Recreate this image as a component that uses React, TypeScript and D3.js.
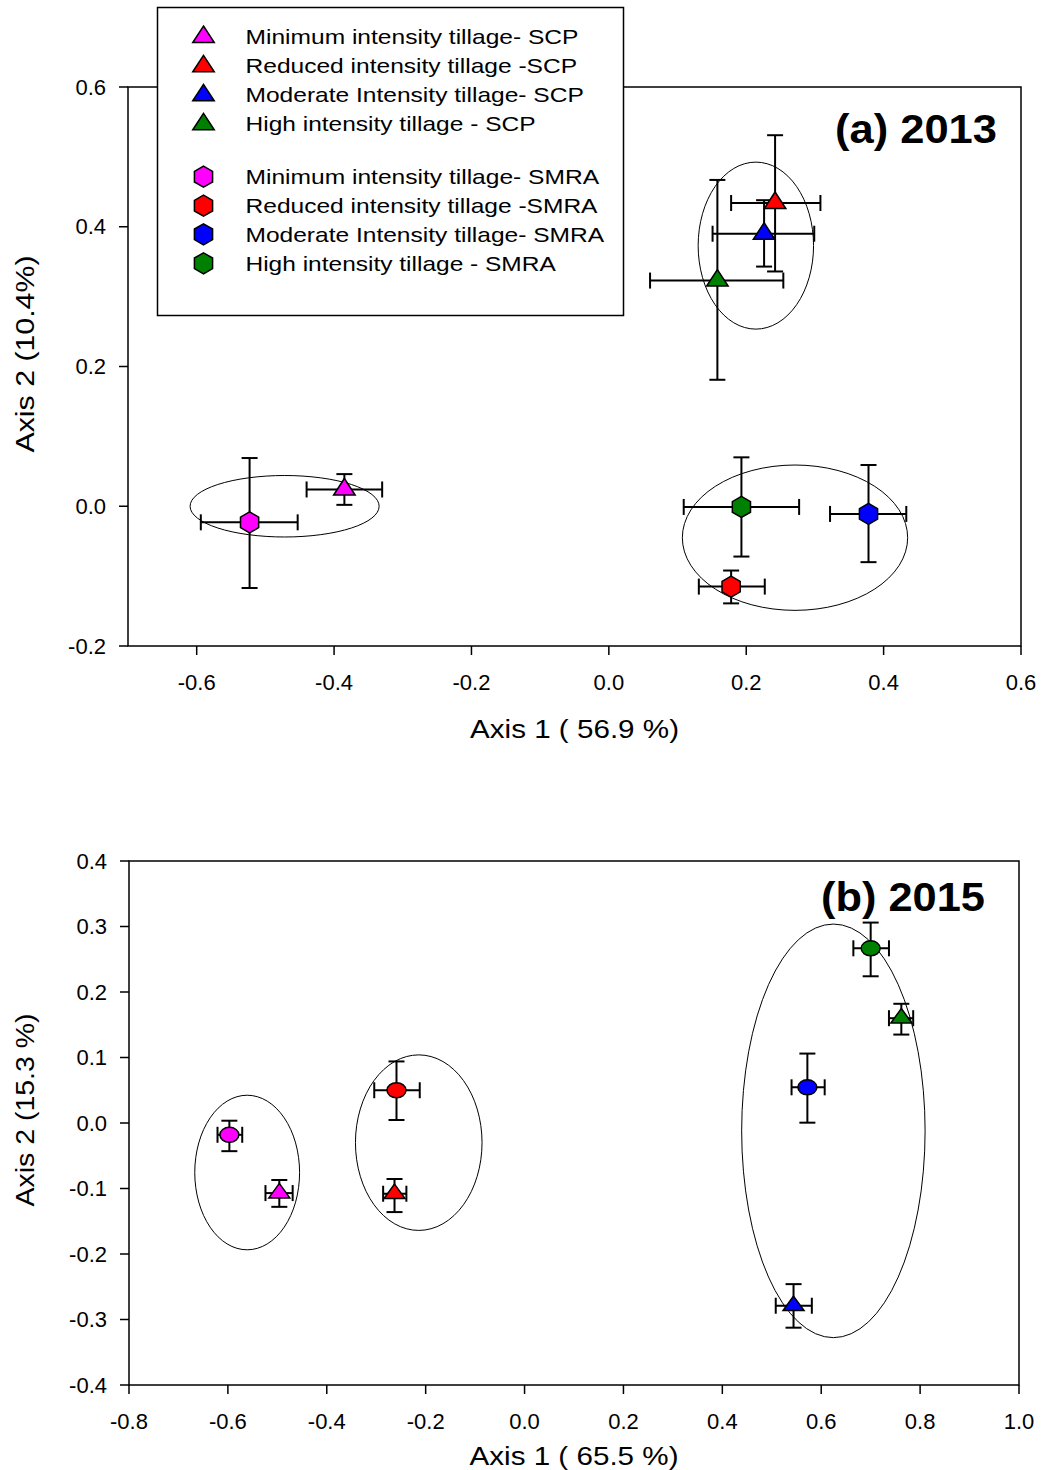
import React, { useEffect } from 'react'
import * as d3 from 'd3'

// ── Data ────────────────────────────────────────────────────────────────────
const COLORS = ['#ff00ff', '#ff0000', '#0000ff', '#008000']

const LEGEND_SCP = [
  'Minimum intensity tillage- SCP',
  'Reduced intensity tillage -SCP',
  'Moderate Intensity tillage- SCP',
  'High intensity tillage - SCP',
]
const LEGEND_SMRA = [
  'Minimum intensity tillage- SMRA',
  'Reduced intensity tillage -SMRA',
  'Moderate Intensity tillage- SMRA',
  'High intensity tillage - SMRA',
]

// [x, y, xLow, xHigh, yLow, yHigh]  order: minimum, reduced, moderate, high
const SCP_2013 = [
  [-0.385, 0.024, -0.44, -0.33, 0.002, 0.046],
  [0.242, 0.434, 0.178, 0.308, 0.336, 0.531],
  [0.226, 0.39, 0.151, 0.299, 0.343, 0.438],
  [0.158, 0.323, 0.06, 0.254, 0.181, 0.467],
]
const SMRA_2013 = [
  [-0.523, -0.023, -0.594, -0.453, -0.117, 0.069],
  [0.178, -0.115, 0.131, 0.227, -0.139, -0.092],
  [0.378, -0.011, 0.322, 0.433, -0.08, 0.059],
  [0.193, -0.001, 0.109, 0.277, -0.072, 0.07],
]
// [cx, cy, rx, ry]
const ELLIPSES_2013 = [
  [-0.472, 0.0, 0.1376, 0.044],
  [0.214, 0.373, 0.084, 0.1195],
  [0.271, -0.045, 0.164, 0.104],
]

const SCP_2015 = [
  [-0.496, -0.107, -0.524, -0.469, -0.128, -0.087],
  [-0.263, -0.108, -0.286, -0.239, -0.136, -0.0855],
  [0.544, -0.279, 0.508, 0.581, -0.3125, -0.246],
  [0.762, 0.16, 0.737, 0.786, 0.135, 0.182],
]
const SMRA_2015 = [
  [-0.597, -0.018, -0.621, -0.571, -0.043, 0.0035],
  [-0.259, 0.05, -0.304, -0.212, 0.0046, 0.094],
  [0.572, 0.0545, 0.54, 0.607, 0.0005, 0.106],
  [0.7, 0.2667, 0.665, 0.737, 0.224, 0.306],
]
const ELLIPSES_2015 = [
  [-0.561, -0.0756, 0.106, 0.118],
  [-0.214, -0.03, 0.128, 0.134],
  [0.6246, -0.012, 0.1855, 0.3157],
]

const X_TICKS_2013 = [-0.6, -0.4, -0.2, 0.0, 0.2, 0.4, 0.6]
const Y_TICKS_2013 = [-0.2, 0.0, 0.2, 0.4, 0.6]
const X_TICKS_2015 = [-0.8, -0.6, -0.4, -0.2, 0.0, 0.2, 0.4, 0.6, 0.8, 1.0]
const Y_TICKS_2015 = [-0.4, -0.3, -0.2, -0.1, 0.0, 0.1, 0.2, 0.3, 0.4]

const FONT = '"Liberation Sans", Arial, Helvetica, sans-serif'

// ── Marker shapes ───────────────────────────────────────────────────────────
function trianglePath(w: number, h: number) {
  // centroid at origin
  const top = (-2 * h) / 3
  const base = h / 3
  return `M0,${top}L${w / 2},${base}L${-w / 2},${base}Z`
}
function hexagonPath(r: number) {
  const pts = d3.range(6).map((i) => {
    const a = (Math.PI / 3) * i - Math.PI / 2
    return [r * Math.cos(a), r * Math.sin(a)]
  })
  return 'M' + pts.map((p) => p.join(',')).join('L') + 'Z'
}

const fmt = (t: number) => t.toFixed(1)

type PanelProps = {
  xDomain: [number, number]
  yDomain: [number, number]
  xRange: [number, number]
  yRange: [number, number]
  xTicks: number[]
  yTicks: number[]
  scp: number[][]
  smra: number[][]
  ellipses: number[][]
  smraShape: 'hex' | 'circle'
  triSize: [number, number]
  title: string
  titlePos: [number, number]
  titleLen: number
  xTitle: string
  yTitle: string
  xTitleY: number
  yTitleLen: number
  yTitleCenter: number
}

function Panel(p: PanelProps) {
  const x = d3.scaleLinear().domain(p.xDomain).range(p.xRange)
  const y = d3.scaleLinear().domain(p.yDomain).range(p.yRange)
  const [x0, x1] = p.xRange
  const [y0, y1] = p.yRange // y0 bottom, y1 top
  const cap = 8

  const errBars = (d: number[], key: string) => (
    <g key={key} stroke="#000" strokeWidth={2} fill="none">
      <line x1={x(d[2])} x2={x(d[3])} y1={y(d[1])} y2={y(d[1])} />
      <line x1={x(d[2])} x2={x(d[2])} y1={y(d[1]) - cap} y2={y(d[1]) + cap} />
      <line x1={x(d[3])} x2={x(d[3])} y1={y(d[1]) - cap} y2={y(d[1]) + cap} />
      <line x1={x(d[0])} x2={x(d[0])} y1={y(d[4])} y2={y(d[5])} />
      <line x1={x(d[0]) - cap} x2={x(d[0]) + cap} y1={y(d[4])} y2={y(d[4])} />
      <line x1={x(d[0]) - cap} x2={x(d[0]) + cap} y1={y(d[5])} y2={y(d[5])} />
    </g>
  )

  const tri = trianglePath(p.triSize[0], p.triSize[1])
  const hex = hexagonPath(10.5)

  return (
    <g fontFamily={FONT}>
      {/* ellipses */}
      {p.ellipses.map((e, i) => (
        <ellipse
          key={'el' + i}
          cx={x(e[0])}
          cy={y(e[1])}
          rx={Math.abs(x(e[0] + e[2]) - x(e[0]))}
          ry={Math.abs(y(e[1] + e[3]) - y(e[1]))}
          fill="none"
          stroke="#000"
          strokeWidth={1}
        />
      ))}

      {/* error bars */}
      {p.scp.map((d, i) => errBars(d, 'es' + i))}
      {p.smra.map((d, i) => errBars(d, 'em' + i))}

      {/* markers */}
      {p.smra.map((d, i) =>
        p.smraShape === 'hex' ? (
          <path key={'m' + i} d={hex} transform={`translate(${x(d[0])},${y(d[1])})`}
            fill={COLORS[i]} stroke="#000" strokeWidth={1.5} />
        ) : (
          <ellipse key={'m' + i} cx={x(d[0])} cy={y(d[1])} rx={9.5} ry={7.5}
            fill={COLORS[i]} stroke="#000" strokeWidth={1.5} />
        )
      )}
      {p.scp.map((d, i) => (
        <path key={'s' + i} d={tri} transform={`translate(${x(d[0])},${y(d[1])})`}
          fill={COLORS[i]} stroke="#000" strokeWidth={1.5} strokeLinejoin="miter" />
      ))}

      {/* frame */}
      <rect x={x0} y={y1} width={x1 - x0} height={y0 - y1} fill="none" stroke="#000" strokeWidth={1.5} />

      {/* x axis */}
      {p.xTicks.map((t) => (
        <g key={'xt' + t}>
          <line x1={x(t)} x2={x(t)} y1={y0} y2={y0 + 9} stroke="#000" strokeWidth={1.5} />
          <text x={x(t)} y={y0 + 44} textAnchor="middle" fontSize={22}>{fmt(t)}</text>
        </g>
      ))}
      {/* y axis */}
      {p.yTicks.map((t) => (
        <g key={'yt' + t}>
          <line x1={x0 - 9} x2={x0} y1={y(t)} y2={y(t)} stroke="#000" strokeWidth={1.5} />
          <text x={x0 - 22} y={y(t) + 7.5} textAnchor="end" fontSize={22}>{fmt(t)}</text>
        </g>
      ))}

      <text x={(x0 + x1) / 2} y={p.xTitleY} textAnchor="middle" fontSize={26}
        textLength={209} lengthAdjust="spacingAndGlyphs">{p.xTitle}</text>
      <text
        transform={`translate(34,${p.yTitleCenter}) rotate(-90)`}
        textAnchor="middle"
        fontSize={26}
        textLength={p.yTitleLen}
        lengthAdjust="spacingAndGlyphs"
      >
        {p.yTitle}
      </text>

      <text x={p.titlePos[0]} y={p.titlePos[1]} textAnchor="end" fontSize={40} fontWeight="bold"
        textLength={p.titleLen} lengthAdjust="spacingAndGlyphs">
        {p.title}
      </text>
    </g>
  )
}

function Legend() {
  const tri = trianglePath(21.5, 16.5)
  const hex = hexagonPath(10.5)
  const rowsScp = [36, 65.3, 94.3, 123.3]
  const rowsSmra = [176.7, 205.7, 234.3, 263.3]
  const lenScp = [333, 331.6, 338.3, 290]
  const lenSmra = [353.6, 352, 358.6, 310.3]
  return (
    <g fontFamily={FONT}>
      <rect x={157.5} y={7.5} width={466} height={308} fill="#fff" stroke="#000" strokeWidth={1.5} />
      {LEGEND_SCP.map((label, i) => (
        <g key={'ls' + i}>
          <path d={tri} transform={`translate(203.5,${rowsScp[i] + 1})`} fill={COLORS[i]} stroke="#000" strokeWidth={1.5} />
          <text x={245.5} y={rowsScp[i] + 7.5} fontSize={21} textLength={lenScp[i]}
            lengthAdjust="spacingAndGlyphs">{label}</text>
        </g>
      ))}
      {LEGEND_SMRA.map((label, i) => (
        <g key={'lm' + i}>
          <path d={hex} transform={`translate(203.5,${rowsSmra[i]})`} fill={COLORS[i]} stroke="#000" strokeWidth={1.5} />
          <text x={245.5} y={rowsSmra[i] + 7.5} fontSize={21} textLength={lenSmra[i]}
            lengthAdjust="spacingAndGlyphs">{label}</text>
        </g>
      ))}
    </g>
  )
}

export default function App() {
  useEffect(() => {
    document.body.style.margin = '0'
  }, [])
  return (
    <svg width={1042} height={1470} style={{ display: 'block', background: '#fff' }}>
      <Panel
        xDomain={[-0.7, 0.6]}
        yDomain={[-0.2, 0.6]}
        xRange={[128, 1021]}
        yRange={[646, 87]}
        xTicks={X_TICKS_2013}
        yTicks={Y_TICKS_2013}
        scp={SCP_2013}
        smra={SMRA_2013}
        ellipses={ELLIPSES_2013}
        smraShape="hex"
        triSize={[21.5, 16.5]}
        title="(a) 2013"
        titlePos={[997, 143]}
        titleLen={162}
        xTitle="Axis 1 ( 56.9 %)"
        yTitle="Axis 2 (10.4%)"
        xTitleY={738}
        yTitleLen={197}
        yTitleCenter={354}
      />
      <Legend />
      <Panel
        xDomain={[-0.8, 1.0]}
        yDomain={[-0.4, 0.4]}
        xRange={[129, 1019]}
        yRange={[1385, 861]}
        xTicks={X_TICKS_2015}
        yTicks={Y_TICKS_2015}
        scp={SCP_2015}
        smra={SMRA_2015}
        ellipses={ELLIPSES_2015}
        smraShape="circle"
        triSize={[21, 14.5]}
        title="(b) 2015"
        titlePos={[985, 911]}
        titleLen={164}
        xTitle="Axis 1 ( 65.5 %)"
        yTitle="Axis 2 (15.3 %)"
        xTitleY={1465}
        yTitleLen={193}
        yTitleCenter={1110}
      />
    </svg>
  )
}
